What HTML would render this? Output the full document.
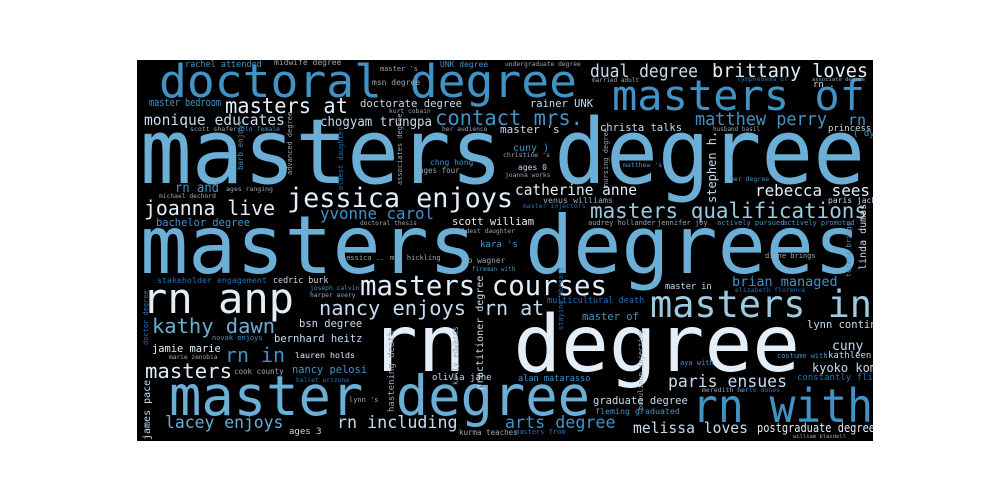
<!DOCTYPE html>
<html><head><meta charset="utf-8"><style>
html,body{margin:0;padding:0;background:#fff;}
svg{display:block;}
text{font-family:"DejaVu Sans Mono","Liberation Mono",monospace;}
.c1{fill:#2171b5}.c2{fill:#4292c6}.c3{fill:#6baed6}.c4{fill:#9ecae1}.c5{fill:#c6dbef}.c6{fill:#e3eef8}.g{fill:#9aa5b0}
</style></head><body>
<svg width="1008" height="504" viewBox="0 0 1008 504">
<defs><clipPath id="cl"><rect x="137" y="60" width="736" height="381"/></clipPath></defs>
<rect x="137" y="60" width="736" height="381" fill="#000"/>
<g clip-path="url(#cl)">
<text class="c3" x="140" y="183" font-size="90" textLength="725" lengthAdjust="spacingAndGlyphs">masters degree</text>
<text class="c3" x="140" y="273" font-size="80" textLength="722" lengthAdjust="spacingAndGlyphs">masters degrees</text>
<text class="c6" x="370" y="371" font-size="78" textLength="430" lengthAdjust="spacingAndGlyphs">rn degree</text>
<text class="c3" x="169" y="415" font-size="55" textLength="421" lengthAdjust="spacingAndGlyphs">master degree</text>
<text class="c2" x="159" y="97" font-size="45" textLength="418" lengthAdjust="spacingAndGlyphs">doctoral degree</text>
<text class="c2" x="612" y="110" font-size="42" textLength="253" lengthAdjust="spacingAndGlyphs">masters of</text>
<text class="c2" x="692" y="422" font-size="46" textLength="181" lengthAdjust="spacingAndGlyphs">rn with</text>
<text class="c6" x="142" y="313" font-size="42" textLength="152" lengthAdjust="spacingAndGlyphs">rn anp</text>
<text class="c4" x="650" y="317" font-size="37" textLength="222" lengthAdjust="spacingAndGlyphs">masters in</text>
<text class="c6" x="287" y="207" font-size="27" textLength="226" lengthAdjust="spacingAndGlyphs">jessica enjoys</text>
<text class="c6" x="360" y="295" font-size="28" textLength="247" lengthAdjust="spacingAndGlyphs">masters courses</text>
<text class="c4" x="590" y="218" font-size="21" textLength="277" lengthAdjust="spacingAndGlyphs">masters qualifications</text>
<text class="c6" x="225" y="113" font-size="21" textLength="123" lengthAdjust="spacingAndGlyphs">masters at</text>
<text class="c2" x="435" y="125" font-size="21" textLength="148" lengthAdjust="spacingAndGlyphs">contact mrs.</text>
<text class="c6" x="144" y="215" font-size="20" textLength="131" lengthAdjust="spacingAndGlyphs">joanna live</text>
<text class="c5" x="319" y="315" font-size="20" textLength="147" lengthAdjust="spacingAndGlyphs">nancy enjoys</text>
<text class="c5" x="484" y="315" font-size="20">rn at</text>
<text class="c3" x="152" y="333" font-size="20" textLength="123" lengthAdjust="spacingAndGlyphs">kathy dawn</text>
<text class="c2" x="225" y="362" font-size="20" textLength="60" lengthAdjust="spacingAndGlyphs">rn in</text>
<text class="c6" x="145" y="378" font-size="20" textLength="87" lengthAdjust="spacingAndGlyphs">masters</text>
<text class="c5" x="590" y="77" font-size="18" textLength="108" lengthAdjust="spacingAndGlyphs">dual degree</text>
<text class="c6" x="712" y="77" font-size="19" textLength="156" lengthAdjust="spacingAndGlyphs">brittany loves</text>
<text class="c2" x="695" y="125" font-size="18" textLength="132" lengthAdjust="spacingAndGlyphs">matthew perry</text>
<text class="c2" x="848" y="125" font-size="15">rn to</text>
<text class="c2" x="320" y="219" font-size="16" textLength="114" lengthAdjust="spacingAndGlyphs">yvonne carol</text>
<text class="c6" x="515" y="195" font-size="15" textLength="122" lengthAdjust="spacingAndGlyphs">catherine anne</text>
<text class="c6" x="755" y="196" font-size="16" textLength="115" lengthAdjust="spacingAndGlyphs">rebecca sees</text>
<text class="c5" x="144" y="125" font-size="15" textLength="141" lengthAdjust="spacingAndGlyphs">monique educates</text>
<text class="c5" x="320" y="126" font-size="13" textLength="112" lengthAdjust="spacingAndGlyphs">chogyam trungpa</text>
<text class="c5" x="360" y="107" font-size="11" textLength="102" lengthAdjust="spacingAndGlyphs">doctorate degree</text>
<text class="c2" x="149" y="106" font-size="11" textLength="72" lengthAdjust="spacingAndGlyphs">master bedroom</text>
<text class="c2" x="175" y="192" font-size="13" textLength="44" lengthAdjust="spacingAndGlyphs">rn and</text>
<text class="c2" x="156" y="226" font-size="11" textLength="94" lengthAdjust="spacingAndGlyphs">bachelor degree</text>
<text class="c6" x="452" y="225" font-size="11" textLength="82" lengthAdjust="spacingAndGlyphs">scott william</text>
<text class="c5" x="530" y="107" font-size="11" textLength="63" lengthAdjust="spacingAndGlyphs">rainer UNK</text>
<text class="c5" x="600" y="131" font-size="11" textLength="82" lengthAdjust="spacingAndGlyphs">christa talks</text>
<text class="c5" x="500" y="133" font-size="11">master 's</text>
<text class="c2" x="513" y="151" font-size="10">cuny )</text>
<text class="c5" x="518" y="170" font-size="8">ages 0</text>
<text class="g" x="505" y="177" font-size="6.3">joanna works</text>
<text class="g" x="503" y="157" font-size="6.5">christine 's</text>
<text class="c2" x="623" y="167" font-size="6.5">matthew 's</text>
<text class="c2" x="730" y="181" font-size="6.5">her degree</text>
<text class="g" x="543" y="203" font-size="8.3">venus williams</text>
<text class="c1" x="523" y="208" font-size="6.5">master injectors</text>
<text class="c5" x="828" y="203" font-size="8">paris jackson</text>
<text class="c5" x="828" y="131" font-size="9">princess anne</text>
<text class="c2" x="853" y="136" font-size="9">( dy</text>
<text class="c5" x="813" y="87" font-size="9">rn .</text>
<text class="g" x="713" y="131" font-size="6">husband basil</text>
<text class="g" x="588" y="225" font-size="7">audrey hollander</text>
<text class="g" x="657" y="225" font-size="7">jennifer joy</text>
<text class="c2" x="717" y="225" font-size="7">actively pursued</text>
<text class="c2" x="783" y="225" font-size="7">actively promoted</text>
<text class="g" x="505" y="66" font-size="6.3">undergraduate degree</text>
<text class="g" x="592" y="82" font-size="6">married adult</text>
<text class="c1" x="737" y="81" font-size="6.5">lymphedema of</text>
<text class="g" x="812" y="81" font-size="5.5">associate degree</text>
<text class="c2" x="185" y="67" font-size="8.5">rachel attended</text>
<text class="g" x="274" y="65" font-size="8">midwife degree</text>
<text class="g" x="380" y="71" font-size="7">master 's</text>
<text class="g" x="372" y="85" font-size="8">msn degree</text>
<text class="c2" x="440" y="67" font-size="8">UNK degree</text>
<text class="g" x="389" y="113" font-size="6.3">kurt cobain</text>
<text class="g" x="190" y="131" font-size="6.5">scott shafer</text>
<text class="c2" x="237" y="131" font-size="6.5">solo female</text>
<text class="g" x="442" y="131" font-size="6.3">her audience</text>
<text class="c2" x="430" y="165" font-size="8">chng hong</text>
<text class="g" x="419" y="173" font-size="7.5">ages four</text>
<text class="g" x="226" y="191" font-size="6.5">ages ranging</text>
<text class="g" x="159" y="198" font-size="6.3">michael dechord</text>
<text class="g" x="360" y="225" font-size="6.3">doctoral thesis</text>
<text class="g" x="458" y="233" font-size="6.3">eldest daughter</text>
<text class="c2" x="480" y="247" font-size="9">kara 's</text>
<text class="g" x="342" y="260" font-size="7">jessica ..</text>
<text class="g" x="390" y="260" font-size="7">ms. hickling</text>
<text class="g" x="463" y="263" font-size="7.8">jo wagner</text>
<text class="c2" x="472" y="271" font-size="6">fireman with</text>
<text class="c1" x="157" y="283" font-size="8.3">stakeholder engagement</text>
<text class="c5" x="273" y="283" font-size="8.4">cedric burk</text>
<text class="c2" x="310" y="290" font-size="6.3">joseph calvin</text>
<text class="g" x="310" y="297" font-size="6.3">harper avery</text>
<text class="c5" x="299" y="327" font-size="10.5">bsn degree</text>
<text class="c2" x="212" y="340" font-size="7">novak enjoys</text>
<text class="c5" x="274" y="342" font-size="10.5">bernhard heitz</text>
<text class="c6" x="152" y="352" font-size="10.4">jamie marie</text>
<text class="g" x="169" y="359" font-size="6.2">marie zenobia</text>
<text class="c6" x="295" y="358" font-size="8.3">lauren holds</text>
<text class="g" x="234" y="374" font-size="7.5">cook county</text>
<text class="c2" x="292" y="373" font-size="10.4">nancy pelosi</text>
<text class="c1" x="296" y="382" font-size="6.3">ballet arizona</text>
<text class="c5" x="432" y="380" font-size="9">olivia jane</text>
<text class="g" x="349" y="402" font-size="7">lynn 's</text>
<text class="c3" x="165" y="428" font-size="16.4">lacey enjoys</text>
<text class="c5" x="337" y="428" font-size="16.7">rn including</text>
<text class="c5" x="289" y="434" font-size="9">ages 3</text>
<text class="g" x="459" y="435" font-size="7.5">kurma teaches</text>
<text class="g" x="765" y="258" font-size="7">diane brings</text>
<text class="c2" x="732" y="286" font-size="13.5">brian managed</text>
<text class="c5" x="665" y="289" font-size="8.6">master in</text>
<text class="c1" x="735" y="292" font-size="6.5">elizabeth florence</text>
<text class="c1" x="547" y="303" font-size="8.5">multicultural death</text>
<text class="c2" x="582" y="320" font-size="10.5">master of</text>
<text class="c5" x="807" y="328" font-size="10.5">lynn continued</text>
<text class="c5" x="832" y="350" font-size="13">cuny (</text>
<text class="c2" x="777" y="358" font-size="7">costume with</text>
<text class="c5" x="828" y="358" font-size="9">kathleen anne</text>
<text class="c2" x="680" y="365" font-size="7">aya with</text>
<text class="c5" x="812" y="372" font-size="12">kyoko komine</text>
<text class="c1" x="797" y="380" font-size="9">constantly flirting</text>
<text class="c2" x="518" y="381" font-size="8.6">alan matarasso</text>
<text class="c5" x="668" y="387" font-size="16.4" textLength="119" lengthAdjust="spacingAndGlyphs">paris ensues</text>
<text class="g" x="702" y="392" font-size="6.5">meredith her</text>
<text class="c1" x="737" y="392" font-size="6.5">carlo dones</text>
<text class="c5" x="593" y="404" font-size="10.5">graduate degree</text>
<text class="c2" x="595" y="414" font-size="8.3">fleming graduated</text>
<text class="c2" x="505" y="428" font-size="16.7">arts degree</text>
<text class="c5" x="633" y="433" font-size="14.7" textLength="115" lengthAdjust="spacingAndGlyphs">melissa loves</text>
<text class="c6" x="757" y="432" font-size="12" textLength="118" lengthAdjust="spacingAndGlyphs">postgraduate degree</text>
<text class="c1" x="515" y="434" font-size="7">masters from</text>
<text class="g" x="793" y="438" font-size="5.5">william blasdell</text>
<text class="c5" x="716" y="203" font-size="12" transform="rotate(-90 716 203)">stephen h.</text>
<text class="g" x="608" y="187" font-size="7" transform="rotate(-90 608 187)">nursing degree</text>
<text class="c2" x="243" y="170" font-size="7.5" transform="rotate(-90 243 170)">barb enjoys</text>
<text class="g" x="292" y="175" font-size="7" transform="rotate(-90 292 175)">advanced degree</text>
<text class="c1" x="343" y="190" font-size="7" transform="rotate(-90 343 190)">oldest daughter</text>
<text class="g" x="402" y="185" font-size="7" transform="rotate(-90 402 185)">associates degree</text>
<text class="c5" x="150" y="440" font-size="10" transform="rotate(-90 150 440)">james pace</text>
<text class="g" x="394" y="412" font-size="9" transform="rotate(-90 394 412)">hastening death</text>
<text class="c5" x="483" y="390" font-size="10" transform="rotate(-90 483 390)">practitioner degree</text>
<text class="g" x="458" y="385" font-size="7.5" transform="rotate(-90 458 385)">kelly edwards</text>
<text class="c1" x="148" y="345" font-size="7" transform="rotate(-90 148 345)">doctor degree</text>
<text class="g" x="643" y="410" font-size="7" transform="rotate(-90 643 410)">botulinum injecting</text>
<text class="c1" x="563" y="330" font-size="7" transform="rotate(-90 563 330)">staying abreast</text>
<text class="c5" x="866" y="270" font-size="10" transform="rotate(-90 866 270)">linda dumas</text>
<text class="c2" x="851" y="277" font-size="7" transform="rotate(-90 851 277)">teresa brings</text>
</g>
</svg>
</body></html>
